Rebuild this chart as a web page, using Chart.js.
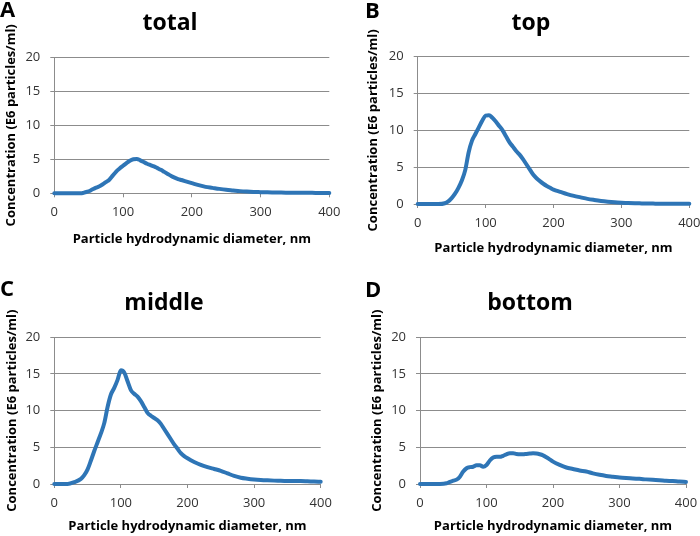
<!DOCTYPE html>
<html>
<head>
<meta charset="utf-8">
<title>Particle size distribution</title>
<script src="https://cdn.jsdelivr.net/npm/chart.js@4.4.1/dist/chart.umd.min.js"></script>
<style>
  body { margin: 0; background: #fff; }
  #wrap { position: relative; width: 700px; height: 536px; overflow: hidden; font-family: 'Open Sans', sans-serif; }
  .box { position: absolute; width: 350px; height: 268px; }
  .lbl { position: absolute; font-weight: bold; font-size: 22px; line-height: 22px; color: #000; }
  .ttl { position: absolute; font-weight: bold; font-size: 23px; line-height: 23px; color: #000; transform: translateX(-50%); white-space: nowrap; }
</style>
</head>
<body>
<div id="wrap">
  <div class="box" style="left:0;top:0"><canvas id="cA" width="350" height="268"></canvas></div>
  <div class="box" style="left:350px;top:0"><canvas id="cB" width="350" height="268"></canvas></div>
  <div class="box" style="left:0;top:268px"><canvas id="cC" width="350" height="268"></canvas></div>
  <div class="box" style="left:350px;top:268px"><canvas id="cD" width="350" height="268"></canvas></div>

  <div class="lbl" style="left:0;top:-3px">A</div>
  <div class="lbl" style="left:365px;top:-2px">B</div>
  <div class="lbl" style="left:0;top:276px">C</div>
  <div class="lbl" style="left:365px;top:277px">D</div>

  <div class="ttl" style="left:170px;top:10px">total</div>
  <div class="ttl" style="left:531px;top:10px">top</div>
  <div class="ttl" style="left:164px;top:290px">middle</div>
  <div class="ttl" style="left:530px;top:290px">bottom</div>
</div>

<script>
// particle diameter (nm)
const sizes = [0, 10, 20, 30,
  40, 45, 50, 55, 60, 65, 70, 75, 80, 85, 90, 95, 100, 105, 110, 115, 120,
  125, 130, 135, 140, 145, 150, 155, 160, 165, 170, 175, 180, 185, 190, 195, 200,
  210, 220, 230, 240, 250, 260, 270, 280, 290, 300,
  310, 320, 330, 340, 350, 360, 370, 380, 390, 400];

// concentration, E6 particles/ml
const totalConc = [0, 0, 0, 0,
  0.02, 0.15, 0.3, 0.55, 0.8, 1.0, 1.3, 1.65, 2.0, 2.6, 3.2, 3.65, 4.05, 4.45, 4.8, 5.0, 5.05,
  4.85, 4.6, 4.35, 4.15, 3.95, 3.7, 3.45, 3.15, 2.85, 2.55, 2.3, 2.1, 1.95, 1.8, 1.65, 1.5,
  1.2, 0.95, 0.8, 0.65, 0.52, 0.42, 0.32, 0.25, 0.2, 0.17,
  0.14, 0.12, 0.1, 0.09, 0.08, 0.07, 0.07, 0.06, 0.06, 0.06];

const topConc = [0, 0, 0, 0,
  0.1, 0.35, 0.8, 1.4, 2.2, 3.2, 4.6, 7.0, 8.6, 9.5, 10.4, 11.3, 12.0, 12.05, 11.7, 11.2, 10.6,
  10.0, 9.2, 8.4, 7.8, 7.2, 6.7, 6.1, 5.4, 4.7, 4.0, 3.5, 3.1, 2.75, 2.45, 2.2, 1.95,
  1.65, 1.35, 1.1, 0.9, 0.7, 0.55, 0.42, 0.32, 0.24, 0.18,
  0.13, 0.1, 0.08, 0.06, 0.05, 0.04, 0.04, 0.03, 0.03, 0.03];

const middleConc = [0, 0, 0, 0.25,
  0.7, 1.2, 2.0, 3.2, 4.5, 5.7, 6.9, 8.3, 10.5, 12.2, 13.1, 14.2, 15.5, 15.2, 14.0, 12.8, 12.3,
  11.9, 11.3, 10.5, 9.7, 9.3, 9.0, 8.7, 8.2, 7.5, 6.8, 6.1, 5.4, 4.8, 4.2, 3.8, 3.5,
  3.0, 2.6, 2.3, 2.05, 1.8, 1.45, 1.1, 0.85, 0.72, 0.62,
  0.55, 0.5, 0.46, 0.43, 0.42, 0.4, 0.4, 0.37, 0.33, 0.3];

const bottomConc = [0, 0, 0, 0,
  0.1, 0.3, 0.45, 0.6, 1.0, 1.7, 2.15, 2.3, 2.35, 2.55, 2.55, 2.35, 2.6, 3.2, 3.6, 3.7, 3.7,
  3.85, 4.05, 4.2, 4.2, 4.1, 4.05, 4.05, 4.1, 4.15, 4.2, 4.15, 4.05, 3.9, 3.65, 3.35, 3.05,
  2.6, 2.25, 2.05, 1.85, 1.7, 1.45, 1.25, 1.1, 1.0, 0.9,
  0.82, 0.75, 0.7, 0.63, 0.57, 0.52, 0.45, 0.4, 0.33, 0.28];

const xTicks = [0, 100, 200, 300, 400];
const yTicks = [0, 5, 10, 15, 20];

// plot area in canvas px: left, top, right, bottom
const panels = [
  { id: 'cA', values: totalConc,  area: [54.3, 57.3, 329.3, 193.3], yTitleX: 11.7, xTitleY: 239 },
  { id: 'cB', values: topConc,    area: [67.7, 56.7, 339.3, 204],   yTitleX: 23,   xTitleY: 248 },
  { id: 'cC', values: middleConc, area: [54.3, 69.3, 320.7, 216],   yTitleX: 12,   xTitleY: 258 },
  { id: 'cD', values: bottomConc, area: [70,   69.3, 336,   216],   yTitleX: 27,   xTitleY: 258 }
];

Chart.defaults.font.family = "'Open Sans', sans-serif";

const W = 350, H = 268;
const gridGray = '#8c8c8c';
const titleSize = 13;
const halfLine = titleSize * 1.2 / 2;

panels.forEach(p => {
  const pts = sizes.map((s, i) => ({ x: s, y: p.values[i] }));
  new Chart(document.getElementById(p.id), {
    type: 'line',
    data: {
      datasets: [{
        data: pts,
        borderColor: '#2e75b6',
        borderWidth: 4,
        borderCapStyle: 'round',
        borderJoinStyle: 'round',
        pointRadius: 0,
        cubicInterpolationMode: 'monotone',
        fill: false,
        clip: 8
      }]
    },
    options: {
      responsive: false,
      animation: false,
      events: [],
      layout: { padding: { left: 0, top: p.area[1], right: W - p.area[2], bottom: 0 } },
      plugins: { legend: { display: false }, tooltip: { enabled: false } },
      scales: {
        x: {
          type: 'linear',
          min: 0, max: 400,
          afterBuildTicks: s => { s.ticks = xTicks.map(v => ({ value: v })); },
          afterFit: s => { s.height = H - p.area[3]; s.paddingLeft = 0; s.paddingRight = 0; },
          ticks: { color: '#333', font: { size: 13 }, padding: 7, maxRotation: 0 },
          grid: { drawOnChartArea: false, drawTicks: true, tickLength: 4, color: gridGray },
          border: { display: true, color: gridGray },
          title: {
            display: true,
            text: 'Particle hydrodynamic diameter, nm',
            color: '#000',
            font: { size: titleSize, weight: 'bold' },
            padding: { top: 0, bottom: H - p.xTitleY - halfLine }
          }
        },
        y: {
          min: 0, max: 20,
          afterBuildTicks: s => { s.ticks = yTicks.map(v => ({ value: v })); },
          afterFit: s => { s.width = p.area[0]; s.paddingTop = 0; s.paddingBottom = 0; },
          ticks: { color: '#333', font: { size: 13 }, padding: 10 },
          grid: { color: gridGray, drawTicks: true, tickLength: 4 },
          border: { display: true, color: gridGray },
          title: {
            display: true,
            text: 'Concentration (E6 particles/ml)',
            color: '#000',
            font: { size: titleSize, weight: 'bold' },
            padding: { top: p.yTitleX - halfLine, bottom: 0 }
          }
        }
      }
    }
  });
});
</script>
</body>
</html>
